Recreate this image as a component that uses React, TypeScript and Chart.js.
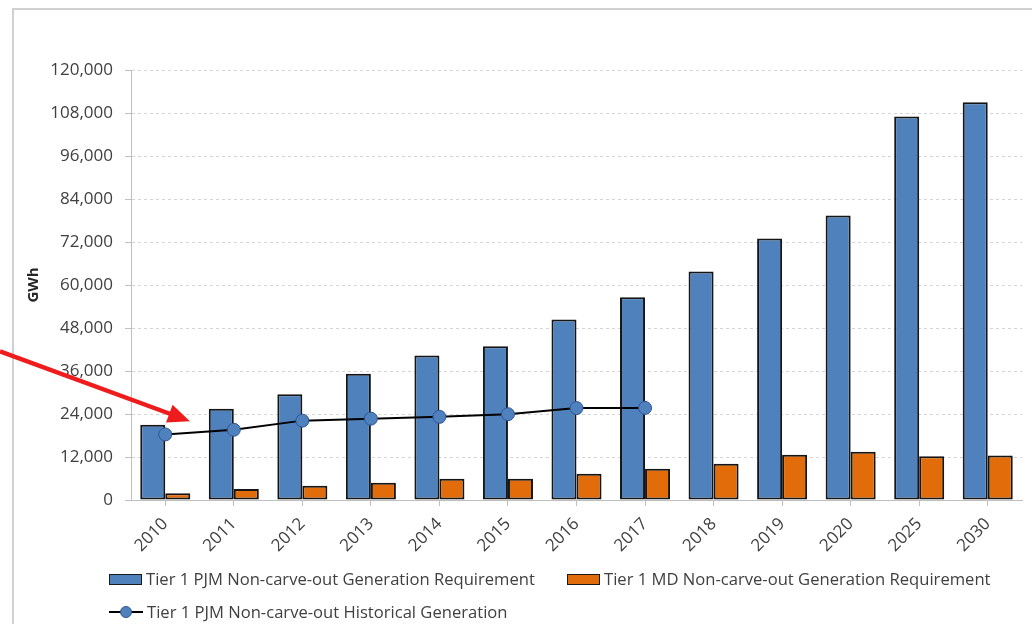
import React, { useEffect, useRef } from "react";
import { Chart, registerables } from "chart.js";

Chart.register(...registerables);

// Years on the category axis
const years = ["2010", "2011", "2012", "2013", "2014", "2015", "2016", "2017", "2018", "2019", "2020", "2025", "2030"];

// Tier 1 PJM non-carve-out generation requirement (GWh)
const pjmRequirement = [21000, 25500, 29500, 35200, 40300, 42900, 50400, 56600, 63800, 73000, 79400, 107000, 111000];

// Tier 1 MD non-carve-out generation requirement (GWh)
const mdRequirement = [1900, 3100, 4000, 4800, 5950, 5950, 7350, 8750, 10150, 12650, 13500, 12200, 12450];

// Tier 1 PJM non-carve-out historical generation (GWh), reported through 2017
const pjmHistorical = [18300, 19600, 22150, 22700, 23200, 23950, 25650, 25700, null, null, null, null, null];

// Value axis ticks
const yMin = 0;
const yMax = 120000;
const yStep = 12000;

const seriesNames = [
  "Tier 1 PJM Non-carve-out Generation Requirement",
  "Tier 1 MD Non-carve-out Generation Requirement",
  "Tier 1 PJM Non-carve-out Historical Generation",
];

const BLUE = "#4F81BD";
const ORANGE = "#E36C0A";
const TEXT = "#404040";
const FONT = "'Open Sans', Lato, sans-serif";

// Where the call-out arrow points: between the first two years, at this value
const arrowTipCategory = 0.36;
const arrowTipValue = 22000;

const arrowPlugin = {
  id: "calloutArrow",
  afterDraw(chart: any) {
    const x = chart.scales.x;
    const y = chart.scales.y;
    const x0 = x.getPixelForValue(0);
    const x1 = x.getPixelForValue(1);
    const tipX = x0 + (x1 - x0) * arrowTipCategory;
    const tipY = y.getPixelForValue(arrowTipValue);
    const startX = 0;
    const startY = tipY - tipX * 0.368;
    const ang = Math.atan2(tipY - startY, tipX - startX);
    const headLen = 22;
    const headHalf = 9.5;
    const ctx = chart.ctx;
    ctx.save();
    ctx.strokeStyle = "#EE1C1C";
    ctx.fillStyle = "#EE1C1C";
    ctx.lineWidth = 4.5;
    const bx = tipX - Math.cos(ang) * headLen;
    const by = tipY - Math.sin(ang) * headLen;
    ctx.beginPath();
    ctx.moveTo(startX, startY);
    ctx.lineTo(bx + Math.cos(ang) * 2, by + Math.sin(ang) * 2);
    ctx.stroke();
    ctx.beginPath();
    ctx.moveTo(tipX, tipY);
    ctx.lineTo(bx - Math.sin(ang) * headHalf, by + Math.cos(ang) * headHalf);
    ctx.lineTo(bx + Math.sin(ang) * headHalf, by - Math.cos(ang) * headHalf);
    ctx.closePath();
    ctx.fill();
    ctx.restore();
  },
};

function LegendBox({ color }: { color: string }) {
  return (
    <span
      style={{
        display: "inline-block",
        width: 31,
        height: 9,
        background: color,
        border: "1.5px solid #1a1a1a",
        marginRight: 4,
        verticalAlign: "middle",
      }}
    />
  );
}

function LegendLine() {
  return (
    <span style={{ display: "inline-block", position: "relative", width: 34, height: 12, marginRight: 4, verticalAlign: "middle" }}>
      <span style={{ position: "absolute", left: 0, right: 0, top: 5, height: 2, background: "#000" }} />
      <span
        style={{
          position: "absolute",
          left: 11,
          top: 0,
          width: 10,
          height: 10,
          borderRadius: "50%",
          background: BLUE,
          border: "1px solid #2F5597",
        }}
      />
    </span>
  );
}

export default function App() {
  const canvasRef = useRef<HTMLCanvasElement | null>(null);

  useEffect(() => {
    if (!canvasRef.current) return;
    const chart = new Chart(canvasRef.current, {
      type: "bar",
      data: {
        labels: years,
        datasets: [
          {
            type: "line",
            label: seriesNames[2],
            data: pjmHistorical,
            borderColor: "#000000",
            borderWidth: 2,
            pointRadius: 6.5,
            pointBackgroundColor: BLUE,
            pointBorderColor: "#2F5597",
            pointBorderWidth: 1,
            spanGaps: false,
            order: 0,
          } as any,
          {
            type: "bar",
            label: seriesNames[0],
            data: pjmRequirement,
            backgroundColor: BLUE,
            borderColor: "#151515",
            borderWidth: 2,
            borderSkipped: false,
            order: 1,
          },
          {
            type: "bar",
            label: seriesNames[1],
            data: mdRequirement,
            backgroundColor: ORANGE,
            borderColor: "#151515",
            borderWidth: 2,
            borderSkipped: false,
            order: 2,
          },
        ],
      },
      options: {
        responsive: false,
        animation: false,
        datasets: {
          bar: { categoryPercentage: 0.73, barPercentage: 1.0 },
        },
        layout: { padding: { top: 70, right: 10, left: 0, bottom: 0 } },
        plugins: {
          legend: { display: false },
          tooltip: { enabled: false },
          title: { display: false },
        },
        scales: {
          x: {
            offset: true,
            grid: {
              offset: false,
              drawOnChartArea: false,
              drawTicks: true,
              tickLength: 6,
              tickColor: "#bfbfbf",
            },
            border: { display: true, color: "#bfbfbf", width: 1 },
            ticks: {
              maxRotation: 45,
              minRotation: 45,
              padding: 8,
              color: TEXT,
              font: { family: FONT, size: 17 },
            },
            afterFit(scale: any) {
              scale.height = 124;
            },
          },
          y: {
            min: yMin,
            max: yMax,
            ticks: {
              stepSize: yStep,
              padding: 12,
              color: TEXT,
              font: { family: FONT, size: 17 },
              callback: (v: any) => Number(v).toLocaleString("en-US"),
            },
            grid: {
              color: "#d4d4d4",
              lineWidth: 1,
              drawTicks: true,
              tickLength: 6,
              tickColor: "#bfbfbf",
            },
            border: { display: true, color: "#bfbfbf", width: 1, dash: [3, 3] },
            title: {
              display: true,
              text: "GWh",
              color: "#262626",
              font: { family: FONT, size: 15, weight: "bold" },
              padding: { top: 25, bottom: 0 },
            },
            afterFit(scale: any) {
              scale.width = 131;
            },
          },
        },
      },
      plugins: [arrowPlugin],
    });
    return () => chart.destroy();
  }, []);

  const legendText: React.CSSProperties = {
    fontFamily: FONT,
    fontSize: 16.6,
    color: TEXT,
    verticalAlign: "middle",
  };

  return (
    <div style={{ position: "absolute", left: 0, top: 0, width: 1032, height: 624, overflow: "hidden", background: "#fff" }}>
      <div
        style={{
          position: "absolute",
          left: 12,
          top: 8,
          width: 1100,
          height: 700,
          borderLeft: "2px solid #d0d0d0",
          borderTop: "2px solid #d0d0d0",
        }}
      />
      <canvas ref={canvasRef} width={1032} height={624} style={{ position: "absolute", left: 0, top: 0, width: 1032, height: 624 }} />
      <div style={{ position: "absolute", left: 109, top: 567, whiteSpace: "nowrap", lineHeight: "22px" }}>
        <LegendBox color={BLUE} />
        <span style={legendText}>{seriesNames[0]}</span>
      </div>
      <div style={{ position: "absolute", left: 567, top: 567, whiteSpace: "nowrap", lineHeight: "22px" }}>
        <LegendBox color={ORANGE} />
        <span style={legendText}>{seriesNames[1]}</span>
      </div>
      <div style={{ position: "absolute", left: 109, top: 600, whiteSpace: "nowrap", lineHeight: "22px" }}>
        <LegendLine />
        <span style={legendText}>{seriesNames[2]}</span>
      </div>
    </div>
  );
}
